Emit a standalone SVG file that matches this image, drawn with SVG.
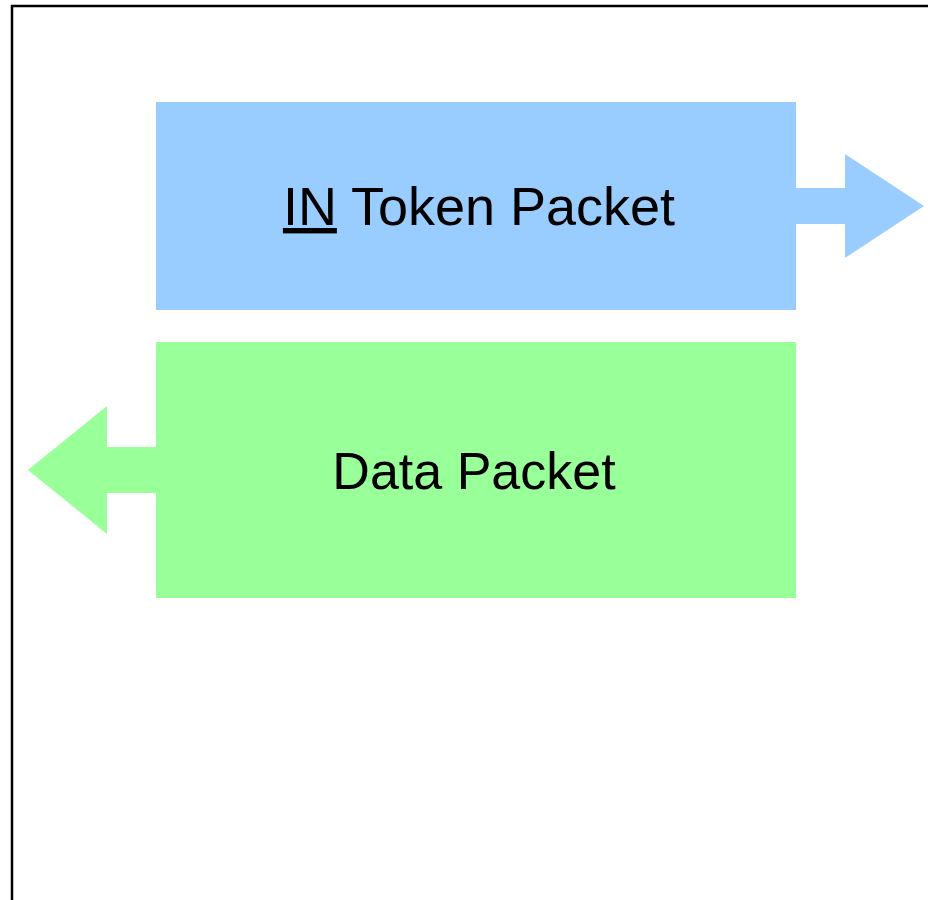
<svg xmlns="http://www.w3.org/2000/svg" width="928" height="900" viewBox="0 0 928 900">
<style>
.lbl{font-family:"Liberation Sans",Arial,sans-serif;font-size:52px;fill:#000;text-anchor:middle}
</style>
<rect x="0" y="0" width="928" height="900" fill="#fff"/>
<rect id="frame" x="12" y="6" width="940" height="920" fill="none" stroke="#000" stroke-width="2.5"/>
<g id="connectors">
<polygon points="796,188 845,188 845,154 924,206 845,258 845,224 796,224" fill="#99ccff"/>
<polygon points="156,447 107,447 107,406 28,470 107,534 107,493 156,493" fill="#99ff99"/>
</g>
<g id="in-token">
<rect x="156" y="102" width="640" height="208" fill="#99ccff"/>
<text class="lbl" x="479" y="225" style="font-size:54px"><tspan text-decoration="underline">IN</tspan> Token Packet</text>
</g>
<g id="data-packet">
<rect x="156" y="342" width="640" height="256" fill="#99ff99"/>
<text class="lbl" x="474" y="489">Data Packet</text>
</g>
</svg>
